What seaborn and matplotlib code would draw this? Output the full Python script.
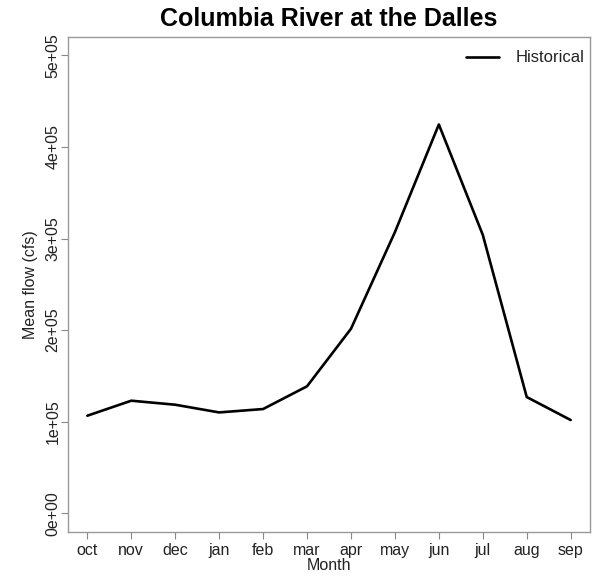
import matplotlib
matplotlib.use("Agg")
import matplotlib.pyplot as plt
import pandas as pd
import seaborn as sns

months = ["oct", "nov", "dec", "jan", "feb", "mar", "apr", "may", "jun", "jul", "aug", "sep"]
mean_flow = [106600, 123000, 118600, 110200, 113900, 138700, 201500, 307000, 424500, 304000, 127000, 101900]
y_ticks = [0, 100000, 200000, 300000, 400000, 500000]
y_tick_labels = ["0e+00", "1e+05", "2e+05", "3e+05", "4e+05", "5e+05"]

sns.set_style("white")
plt.rcParams["font.family"] = ["Liberation Sans", "DejaVu Sans"]

df = pd.DataFrame({"pos": range(1, len(months) + 1), "flow": mean_flow, "series": "Historical"})

fig = plt.figure(figsize=(5.95, 5.76), dpi=100)
ax = fig.add_axes([68 / 595, 1 - 531.7 / 576, (590 - 68) / 595, (531.7 - 37) / 576])

sns.lineplot(data=df, x="pos", y="flow", hue="series", palette=["black"], linewidth=1.9, ax=ax)

ax.set_xlim(0.56, 12.44)
ax.set_ylim(-20000, 520000)
ax.set_xticks(range(1, len(months) + 1))
ax.set_xticklabels(months, fontsize=11.5)
ax.set_yticks(y_ticks)
ax.set_yticklabels(y_tick_labels, fontsize=11.5, rotation=90, va="center")
ax.tick_params(axis="x", direction="out", length=5, width=0.8, color="#888888",
               bottom=True, pad=3, labelcolor="#222222")
ax.tick_params(axis="y", direction="out", length=5, width=0.8, color="#888888",
               left=True, pad=0.5, labelcolor="#222222")
for sp in ax.spines.values():
    sp.set_color("#999999")
    sp.set_linewidth(1.0)

ax.set_xlabel("Month", fontsize=11.5, labelpad=0, color="#222222")
ax.set_ylabel("Mean flow (cfs)", fontsize=11.5, labelpad=5, color="#222222")
ax.set_title("Columbia River at the Dalles", fontsize=18, fontweight="bold", pad=8, color="black")

leg = ax.legend(loc="upper right", bbox_to_anchor=(588 / 595, 1 - 47 / 576),
                bbox_transform=fig.transFigure, frameon=False, fontsize=12,
                handlelength=2.0, borderaxespad=0, borderpad=0.2, handletextpad=1.0)
for t in leg.get_texts():
    t.set_color("#222222")

fig.savefig("out.png", dpi=100)
